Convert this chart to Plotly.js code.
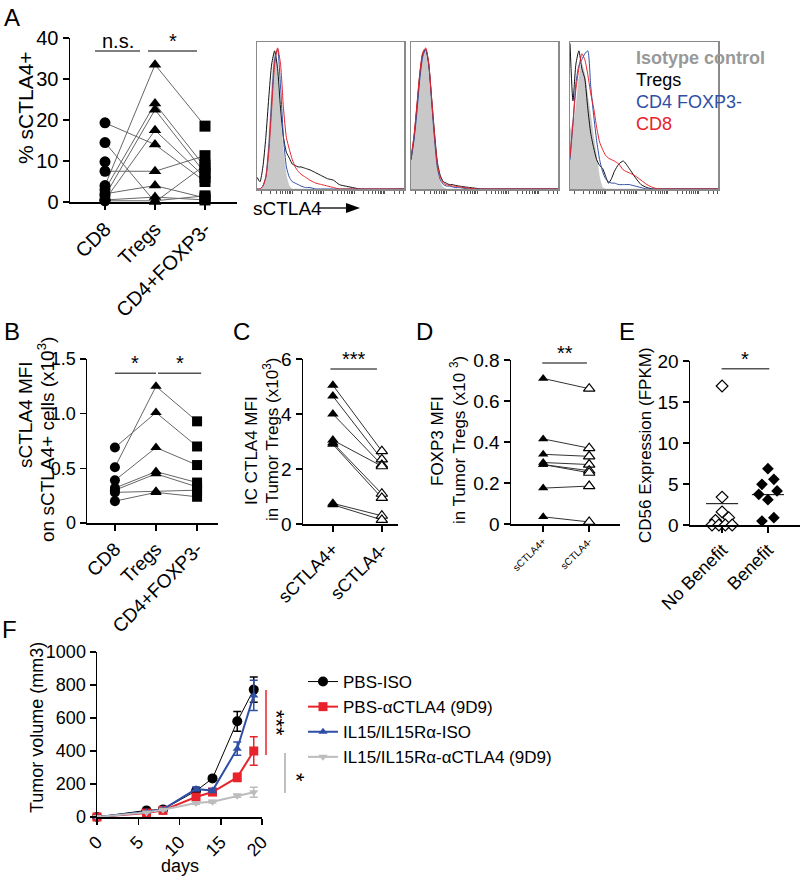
<!DOCTYPE html>
<html>
<head>
<meta charset="utf-8">
<script src="https://cdn.plot.ly/plotly-3.0.1.min.js"></script>
<style>
  html, body { margin: 0; padding: 0; background: #fff; }
  #plot { width: 800px; height: 878px; }
</style>
</head>
<body>
<div id="plot"></div>
<script>
// ---- panel A: % sCTLA4+ (one entry per donor, null = no matching point)
const aGroups = ['CD8', 'Tregs', 'CD4+FOXP3-'];
const aCD8   = [4, 3, 1.5, 0.5, 19.3, 7.5, 2, 0.5, 0.3, 14.5, 9.8];
const aTregs = [33.5, 24, 22.5, 17.5, 14, 7.5, 4, 1.2, 0.3, 0, null];
const aCD4   = [18.5, 8.5, 7, 6, 5, 11.3, 1, 0.5, 1.5, 9, null];

// ---- panel A histograms (x = % across the box, y = % of max)
const hx = [0, 2, 4, 6, 8, 10, 12, 14, 16, 18, 20, 22, 24, 26, 28, 30, 33, 36, 40, 44, 48, 52, 56, 60, 65, 70, 100];
const h1Iso  = [0, 0, 2, 10, 35, 70, 93, 80, 50, 25, 9, 2, 0, 0, 0, 0, 0, 0, 0, 0, 0, 0, 0, 0, 0, 0, 0];
const h1Treg = [8, 5, 15, 35, 62, 85, 94, 82, 55, 35, 25, 21, 17, 16, 15, 15, 14, 13, 11, 9, 7, 6, 3, 2, 1, 0, 0];
const h1Cd4  = [0, 0, 2, 8, 28, 60, 88, 95, 70, 35, 15, 8, 5, 4, 3, 2, 1, 1, 0, 0, 0, 0, 0, 0, 0, 0, 0];
const h1Cd8  = [0, 0, 2, 8, 25, 55, 85, 96, 85, 55, 35, 27, 20, 15, 12, 10, 8, 6, 4, 3, 2, 1, 0, 0, 0, 0, 0];
const h2Iso  = [18, 33, 55, 78, 92, 94, 82, 58, 34, 12, 4, 1, 0, 0, 0, 0, 0, 0, 0, 0, 0, 0, 0, 0, 0, 0, 0];
const h2Treg = [20, 35, 56, 78, 92, 95, 85, 62, 38, 18, 9, 5, 4, 3, 3, 2.5, 2, 1.5, 1, 0.5, 0, 0, 0, 0, 0, 0, 0];
const h2Cd4  = [20, 33, 52, 75, 90, 95, 86, 60, 34, 14, 6, 3, 2, 2, 1.5, 1, 1, 0.5, 0, 0, 0, 0, 0, 0, 0, 0, 0];
const h2Cd8  = [22, 36, 57, 79, 93, 96, 86, 62, 37, 16, 8, 4, 3, 2.5, 2, 2, 1.5, 1, 0.5, 0, 0, 0, 0, 0, 0, 0, 0];
const h3Iso  = [40, 45, 55, 75, 85, 78, 63, 50, 35, 22, 8, 1, 0, 0, 0, 0, 0, 0, 0, 0, 0, 0, 0, 0, 0, 0, 0];
const h3Treg = [99, 60, 85, 94, 82, 75, 55, 38, 28, 20, 16, 14, 9, 4, 7, 12, 17, 19, 14, 8, 3, 1, 0, 0, 0, 0, 0];
const h3Cd4  = [20, 45, 72, 84, 88, 92, 94, 70, 50, 33, 20, 12, 7, 5, 4, 4, 3, 3, 3, 2, 1, 0, 0, 0, 0, 0, 0];
const h3Cd8  = [22, 45, 68, 82, 92, 88, 78, 65, 55, 42, 32, 27, 23, 21, 20, 19, 17, 13, 11, 9, 6, 3, 1, 0, 0, 0, 0];
const histNames = ['Isotype control', 'Tregs', 'CD4 FOXP3-', 'CD8'];

// ---- panel B: sCTLA4 MFI (x10^3)
const bCD8   = [0.51, 0.69, 0.39, 0.32, 0.30, 0.28, 0.20];
const bTregs = [1.25, 1.01, 0.69, 0.47, 0.45, 0.29, 0.28];
const bCD4   = [0.93, 0.70, 0.53, 0.37, 0.33, 0.30, 0.24];

// ---- panel C: IC CTLA4 MFI (x10^3)
const cGroups = ['sCTLA4+', 'sCTLA4-'];
const cPos = [5.05, 4.65, 4.0, 3.05, 2.95, 2.9, 0.75, 0.7];
const cNeg = [2.65, 2.35, 2.15, 2.1, 1.1, 0.95, 0.3, 0.15];

// ---- panel D: FOXP3 MFI (x10^3)
const dPos = [0.71, 0.415, 0.34, 0.30, 0.29, 0.29, 0.175, 0.035];
const dNeg = [0.66, 0.37, 0.33, 0.29, 0.26, 0.25, 0.185, 0.01];

// ---- panel E: CD56 FPKM
const eGroups = ['No Benefit', 'Benefit'];
const eNoVal  = [16.95, 3.4, 1.6, 0.57, 0.89, 0, 0, 0, 0];
const eNoOff  = [0, 0, 0, -0.145, 0.145, -0.22, -0.07, 0.07, 0.22];
const eYesVal = [6.87, 5.57, 4.96, 4.15, 3.74, 3.09, 0.49, 0.89];
const eYesOff = [0, 0.13, -0.13, 0.2, -0.2, 0, -0.13, 0.13];
const eMeans  = [2.6, 3.7];

// ---- panel F: tumour growth
const fDays = [0, 6, 8, 12, 14, 17, 19];
const fPbsIso    = [0, 40, 46, 158, 234, 580, 772];
const fPbsIsoErr = [0, 5, 6, 15, 12, 60, 77];
const fPbsCtla    = [0, 24, 40, 121, 151, 240, 400];
const fPbsCtlaErr = [0, 4, 5, 12, 15, 25, 86];
const fIlIso    = [0, 30, 46, 170, 160, 414, 737];
const fIlIsoErr = [0, 4, 5, 12, 12, 40, 92];
const fIlCtla    = [0, 28, 44, 85, 93, 129, 150];
const fIlCtlaErr = [0, 3, 4, 8, 8, 10, 30];
const fNames = ['PBS-ISO', 'PBS-\u03b1CTLA4 (9D9)', 'IL15/IL15R\u03b1-ISO', 'IL15/IL15R\u03b1-\u03b1CTLA4 (9D9)'];

// pixel helpers (800 x 878 canvas)
const W = 800, H = 878;
const PX = x => x / W;
const PY = y => 1 - y / H;
const dx = (l, r) => [PX(l), PX(r)];
const dy = (t, b) => [PY(b), PY(t)];

const FONT = 'Liberation Sans, Arial, sans-serif';
const RED = '#e8232b', BLUE = '#2f4fa6', LGRAY = '#bcbcbc';

function axis(domain, range, anchor, fs, extra) {
  return Object.assign({
    domain: domain, range: range, anchor: anchor,
    showline: true, linecolor: '#000', linewidth: 1.5,
    ticks: 'outside', ticklen: 6, tickwidth: 1.5, tickcolor: '#000',
    showgrid: false, zeroline: false, fixedrange: true,
    tickfont: { size: fs, color: '#000', family: FONT }
  }, extra || {});
}

const traces = [];
const marker = (sym, size, color, open) => ({
  symbol: sym, size: size, color: open ? '#fff' : color,
  line: { color: color, width: open ? 1.2 : 0 }
});

// --- A scatter
for (let i = 0; i < aCD8.length; i++) {
  traces.push({ x: [0, 1, 2], y: [aCD8[i], aTregs[i], aCD4[i]], xaxis: 'x', yaxis: 'y',
    mode: 'lines', line: { color: '#666', width: 1 }, showlegend: false, hoverinfo: 'skip' });
}
[[aCD8, 0, 'circle'], [aTregs, 1, 'triangle-up'], [aCD4, 2, 'square']].forEach(([vals, g, sym]) => {
  traces.push({ x: vals.map(() => g), y: vals, xaxis: 'x', yaxis: 'y', mode: 'markers',
    marker: marker(sym, 11, '#000'), cliponaxis: false, showlegend: false });
});

// --- A histograms
[[h1Iso, h1Treg, h1Cd4, h1Cd8], [h2Iso, h2Treg, h2Cd4, h2Cd8], [h3Iso, h3Treg, h3Cd4, h3Cd8]].forEach((set, k) => {
  const xa = 'x' + (k + 2), ya = 'y' + (k + 2);
  const cols = ['#bdbdbd', '#111', BLUE, RED];
  set.forEach((ys, j) => {
    const t = { x: hx, y: ys, xaxis: xa, yaxis: ya, mode: 'lines', name: histNames[j],
      line: { color: cols[j], width: j === 0 ? 0.5 : 1, shape: 'spline', smoothing: 0.6 },
      showlegend: false, hoverinfo: 'skip' };
    if (j === 0) { t.fill = 'tozeroy'; t.fillcolor = '#c8c8c8'; }
    traces.push(t);
  });
});

// --- B
for (let i = 0; i < bCD8.length; i++) {
  traces.push({ x: [0, 1, 2], y: [bCD8[i], bTregs[i], bCD4[i]], xaxis: 'x5', yaxis: 'y5',
    mode: 'lines', line: { color: '#666', width: 1 }, showlegend: false, hoverinfo: 'skip' });
}
[[bCD8, 0, 'circle'], [bTregs, 1, 'triangle-up'], [bCD4, 2, 'square']].forEach(([vals, g, sym]) => {
  traces.push({ x: vals.map(() => g), y: vals, xaxis: 'x5', yaxis: 'y5', mode: 'markers',
    marker: marker(sym, 10, '#000'), cliponaxis: false, showlegend: false });
});

// --- C
for (let i = 0; i < cPos.length; i++) {
  traces.push({ x: [0, 1], y: [cPos[i], cNeg[i]], xaxis: 'x6', yaxis: 'y6',
    mode: 'lines', line: { color: '#333', width: 1 }, showlegend: false, hoverinfo: 'skip' });
}
traces.push({ x: cPos.map(() => 0), y: cPos, xaxis: 'x6', yaxis: 'y6', mode: 'markers',
  marker: marker('triangle-up', 10, '#000'), cliponaxis: false, showlegend: false });
traces.push({ x: cNeg.map(() => 1), y: cNeg, xaxis: 'x6', yaxis: 'y6', mode: 'markers',
  marker: marker('triangle-up', 10, '#000', true), cliponaxis: false, showlegend: false });

// --- D
for (let i = 0; i < dPos.length; i++) {
  traces.push({ x: [0, 1], y: [dPos[i], dNeg[i]], xaxis: 'x7', yaxis: 'y7',
    mode: 'lines', line: { color: '#333', width: 1 }, showlegend: false, hoverinfo: 'skip' });
}
traces.push({ x: dPos.map(() => 0), y: dPos, xaxis: 'x7', yaxis: 'y7', mode: 'markers',
  marker: marker('triangle-up', 9, '#000'), cliponaxis: false, showlegend: false });
traces.push({ x: dNeg.map(() => 1), y: dNeg, xaxis: 'x7', yaxis: 'y7', mode: 'markers',
  marker: marker('triangle-up', 10, '#000', true), cliponaxis: false, showlegend: false });

// --- E
traces.push({ x: eNoOff.map(o => 0 + o), y: eNoVal, xaxis: 'x8', yaxis: 'y8', mode: 'markers',
  marker: marker('diamond', 9, '#000', true), cliponaxis: false, showlegend: false });
traces.push({ x: eYesOff.map(o => 1 + o), y: eYesVal, xaxis: 'x8', yaxis: 'y8', mode: 'markers',
  marker: marker('diamond', 9, '#000'), cliponaxis: false, showlegend: false });
eMeans.forEach((m, g) => {
  traces.push({ x: [g - 0.35, g + 0.35], y: [m, m], xaxis: 'x8', yaxis: 'y8', mode: 'lines',
    line: { color: '#000', width: 1 }, showlegend: false, hoverinfo: 'skip' });
});

// --- F
[[fPbsIso, fPbsIsoErr, '#000', 'circle', 10, 1],
 [fPbsCtla, fPbsCtlaErr, RED, 'square', 9, 2],
 [fIlIso, fIlIsoErr, BLUE, 'triangle-up', 8, 2],
 [fIlCtla, fIlCtlaErr, LGRAY, 'triangle-down', 8, 2]].forEach(([ys, err, col, sym, sz, lw], k) => {
  traces.push({ x: fDays, y: ys, name: fNames[k], xaxis: 'x9', yaxis: 'y9', mode: 'lines+markers',
    line: { color: col, width: lw }, marker: { symbol: sym, size: sz, color: col },
    error_y: { type: 'data', array: err, visible: true, color: col, thickness: 1.5, width: 4 },
    cliponaxis: false, showlegend: true });
});

// histogram tick marks (log-like decades)
const histTicks = [];
for (let d = 0; d < 5; d++) for (let k = 1; k < 10; k++) {
  const p = 3 + 21 * (d + Math.log10(k));
  if (p <= 100) histTicks.push(p);
}
function histAxes(l, r, n) {
  const xs = axis(dx(l, r), [0, 100], 'y' + n, 10, {
    linecolor: '#8a8a8a', linewidth: 1.5, mirror: true, tickvals: histTicks,
    showticklabels: false, ticklen: 3, tickwidth: 1, tickcolor: '#555' });
  const ys = axis(dy(42, 189), [0, 100], 'x' + n, 10, {
    linecolor: '#8a8a8a', linewidth: 1.5, mirror: true, ticks: '', showticklabels: false });
  return [xs, ys];
}
const [x2, y2] = histAxes(257, 404, 2);
const [x3, y3] = histAxes(411, 558, 3);
const [x4, y4] = histAxes(570, 718, 4);

const layout = {
  width: W, height: H,
  margin: { l: 0, r: 0, t: 0, b: 0 },
  paper_bgcolor: '#fff', plot_bgcolor: 'rgba(0,0,0,0)',
  font: { family: FONT, color: '#000', size: 18 },
  showlegend: true,
  legend: { x: PX(303), y: PY(664), xanchor: 'left', yanchor: 'top', bgcolor: 'rgba(0,0,0,0)',
    font: { size: 17, family: FONT }, itemwidth: 30, tracegroupgap: 0 },
  xaxis: axis(dx(70, 237), [-0.7, 2.64], 'y', 20, { tickvals: [0, 1, 2], ticktext: aGroups, tickangle: -45 }),
  yaxis: axis(dy(38, 202), [0, 40], 'x', 20, { tickvals: [0, 10, 20, 30, 40] }),
  xaxis2: x2, yaxis2: y2, xaxis3: x3, yaxis3: y3, xaxis4: x4, yaxis4: y4,
  xaxis5: axis(dx(87, 218), [-0.68, 2.51], 'y5', 19, { tickvals: [0, 1, 2], ticktext: aGroups, tickangle: -45 }),
  yaxis5: axis(dy(359, 523), [0, 1.5], 'x5', 18, { tickvals: [0, 0.5, 1, 1.5], ticktext: ['0', '0.5', '1.0', '1.5'] }),
  xaxis6: axis(dx(303, 398), [-0.61, 1.33], 'y6', 18, { tickvals: [0, 1], ticktext: cGroups, tickangle: -45 }),
  yaxis6: axis(dy(359, 524), [0, 6], 'x6', 19, { tickvals: [0, 2, 4, 6] }),
  xaxis7: axis(dx(511, 620), [-0.7, 1.67], 'y7', 10, { tickvals: [0, 1], ticktext: cGroups, tickangle: -45 }),
  yaxis7: axis(dy(360, 524), [0, 0.8], 'x7', 19, { tickvals: [0, 0.2, 0.4, 0.6, 0.8], ticktext: ['0', '0.2', '0.4', '0.6', '0.8'] }),
  xaxis8: axis(dx(690, 800), [-0.7, 1.7], 'y8', 18, { tickvals: [0, 1], ticktext: eGroups, tickangle: -45 }),
  yaxis8: axis(dy(361, 525), [0, 20], 'x8', 19, { tickvals: [0, 5, 10, 15, 20] }),
  xaxis9: axis(dx(97, 262), [0, 20], 'y9', 18, { tickvals: [0, 5, 10, 15, 20], tickangle: -45 }),
  yaxis9: axis(dy(652, 817), [0, 1000], 'x9', 18, { tickvals: [0, 200, 400, 600, 800, 1000] }),
  shapes: [],
  annotations: []
};

const ann = layout.annotations, shp = layout.shapes;
function text(t, x, y, size, opts) {
  ann.push(Object.assign({ text: t, x: PX(x), y: PY(y), xref: 'paper', yref: 'paper',
    xanchor: 'center', yanchor: 'middle', showarrow: false,
    font: { size: size, family: FONT, color: '#000' } }, opts || {}));
}
// panel letters
[['A', 2, 2], ['B', 2, 316], ['C', 231, 316], ['D', 414, 316], ['E', 617, 316], ['F', 0, 614]].forEach(([t, x, y]) => {
  text(t, x, y, 24, { xanchor: 'left', yanchor: 'top' });
});
// y titles
text('% sCTLA4+', 26, 108, 21, { textangle: -90 });
text('sCTLA4 MFI', 25, 415, 19, { textangle: -90 });
text('on sCTLA4+ cells (x10<sup>3</sup>)', 46, 440, 19, { textangle: -90 });
text('IC CTLA4 MFI', 251, 450, 17, { textangle: -90 });
text('in Tumor Tregs (x10<sup>3</sup>)', 271, 440, 17, { textangle: -90 });
text('FOXP3 MFI', 437, 441, 17, { textangle: -90 });
text('in Tumor Tregs (x10 <sup>3</sup>)', 458, 440, 17, { textangle: -90 });
text('CD56 Expression (FPKM)', 645, 445, 17, { textangle: -90 });
text('Tumor volume (mm3)', 37, 728, 18, { textangle: -90 });
text('days', 180, 866, 18);

// significance brackets
function bracket(xa, ya, x0, x1, y, label) {
  shp.push({ type: 'line', xref: xa, yref: ya, x0: x0, x1: x1, y0: y, y1: y, line: { color: '#555', width: 1.5 } });
  ann.push({ text: label, x: (x0 + x1) / 2, y: y, xref: xa, yref: ya, xanchor: 'center', yanchor: 'bottom',
    yshift: -3, showarrow: false, font: { size: 20, family: FONT, color: '#000' } });
}
bracket('x', 'y', -0.2, 0.7, 36.8, 'n.s.');
bracket('x', 'y', 0.86, 1.84, 36.8, '*');
bracket('x5', 'y5', 0, 1, 1.37, '*');
bracket('x5', 'y5', 1.05, 2.1, 1.37, '*');
bracket('x6', 'y6', -0.05, 0.9, 5.64, '***');
bracket('x7', 'y7', -0.02, 0.95, 0.785, '**');
bracket('x8', 'y8', -0.01, 1.03, 19.06, '*');

// histogram legend text + axis label with arrow
[['<b>Isotype control</b>', '#999'], ['Tregs', '#000'], ['CD4 FOXP3-', BLUE], ['CD8', RED]].forEach(([t, c], i) => {
  text(t, 634, 58 + 22 * i, 18, { xanchor: 'left', font: { size: 18, family: FONT, color: c } });
});
text('sCTLA4', 251, 208, 19, { xanchor: 'left' });
shp.push({ type: 'line', xref: 'paper', yref: 'paper', x0: PX(318), x1: PX(350), y0: PY(208), y1: PY(208),
  line: { color: '#000', width: 1.3 } });
shp.push({ type: 'path', xref: 'paper', yref: 'paper', fillcolor: '#000', line: { width: 0 },
  path: `M ${PX(346)} ${PY(203)} L ${PX(360)} ${PY(208)} L ${PX(346)} ${PY(213)} Z` });

// panel F significance
shp.push({ type: 'line', xref: 'paper', yref: 'paper', x0: PX(266), x1: PX(266), y0: PY(690), y1: PY(755),
  line: { color: RED, width: 1.5 } });
shp.push({ type: 'line', xref: 'paper', yref: 'paper', x0: PX(285), x1: PX(285), y0: PY(753), y1: PY(793),
  line: { color: '#aaa', width: 1.5 } });
text('***', 277, 723, 22, { textangle: 90 });
text('*', 297, 777, 22, { textangle: 90 });

Plotly.newPlot('plot', traces, layout, { staticPlot: true, displayModeBar: false });
</script>
</body>
</html>
